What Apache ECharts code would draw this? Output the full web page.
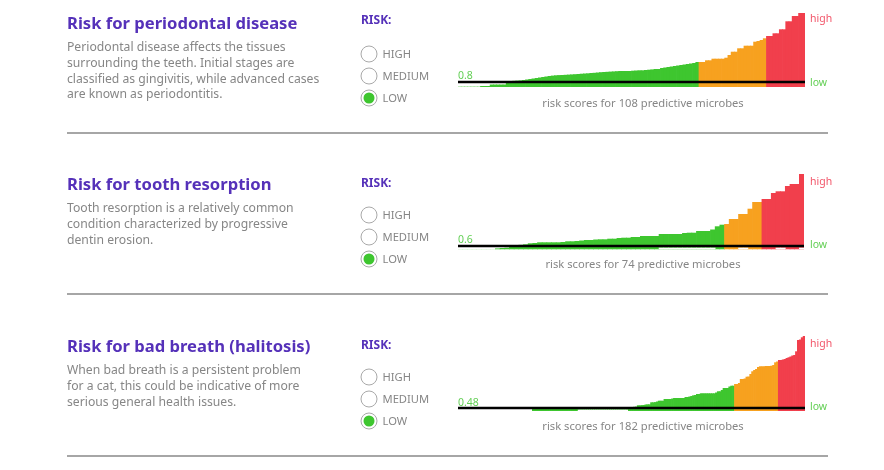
<!DOCTYPE html>
<html><head><meta charset="utf-8">
<script src="https://cdn.jsdelivr.net/npm/echarts@6/dist/echarts.min.js"></script>
<style>html,body{margin:0;padding:0;background:#fff}#c{width:884px;height:470px}</style>
</head><body><div id="c"></div>
<script>
// Scores are stored as hundredths above (+) or below (-) each panel's cutoff.
const periodontalMargins = [
-4.7,-4.7,-4.7,-4.7,-4.7,-4.7,-4.7,-4,-4,-4,
-2.5,-2.5,-2.5,-2.5,-2.5,0.5,1,1.2,1.4,1.6,
2,2.5,3,3.5,4,4.5,5,5.5,6,6.4,
6.7,6.9,7,7.2,7.4,7.6,7.8,8,8.3,8.5,
8.7,9,9.2,9.5,9.8,10,10.2,10.4,10.6,10.8,
11,11,11,11,11.3,11.5,11.7,11.7,12,12.3,
12.6,13,13,14,14.5,15,15.5,16,16.5,17,
17.5,18,18.5,19,20,20,20,21.7,21.7,23.3,
23.3,23.3,23.3,24.3,27,30.3,30.3,33.7,33.7,36.3,
36.3,36.3,40.3,41,42,43.7,46,46,48.7,48.7,
52.7,52.7,60.7,60.7,66,66,69,69];
const resorptionMargins = [
-3.2,-3.2,-3.2,-3.2,-3.2,-3.2,-3.2,-3.2,-2.4,-2,
-1.7,-1,0.5,1.2,1.7,2.7,3,3.7,3.7,3.7,
3.7,3.7,4,4.7,4.7,5,5.5,6,6,6.5,
6.7,6.7,7.3,7.3,8,8.3,8.3,9,9,10,
10,10,10,12,12,12,12,12,13,13.3,
13.3,15,15,15,16.5,19.7,21.3,22,27,27,
32,32,37.3,44,44,47,47,53,54.7,54.7,
60,62,62,72];
const halitosisMargins = [
-3,-3,-3,-3,-3,-3,-3,-3,-3,-3,-3,-3,-3,-3,-3,-3,-3,-3,-3,-3,
-3,-3,-3,-3,-3,-3,-3,-3,-3,-3,-3,-3,-3,-3,-3,-3,-3,-3,-3,
-0.5,-0.5,-0.5,-0.5,-0.5,-0.5,-0.5,-0.5,-0.5,-0.5,-0.5,-0.5,
-0.5,-0.5,-0.5,-0.5,-0.5,-0.5,-0.5,-0.5,-0.5,-0.5,-0.5,-0.5,
0,0,0,0,0,0,0,0,0,0,0,0,0,0,0,0,0,0,0,0,0,0,0,0,0,0,
0.5,0.8,1,1.2,1.4,2.7,2.7,2.9,3,3.5,3.7,3.7,5.7,5.7,5.9,
6.5,7.3,7.3,7.3,9,9,9,9,9.5,10,10,10,10,10,10,11,11,11.5,12,
12.7,13,14,14,14.7,14.7,14.7,14.7,14.7,14.7,14.7,14.7,15.5,16.7,16.7,
18,20,20,20,21.5,22.3,22.3,
24,24,25,29,29,29.5,31.3,31.5,34,36.7,38,39,41,41.7,41.7,41.7,42,42,42,42.3,43,45.7,46.5,
48,48,48.5,49,50,50.7,51.5,52.5,53,56.7,68,68.5,70.7,72];

const cutoffs = [0.8, 0.6, 0.48];
const zoneEnds = [[75, 96], [57, 65], [145, 168]];
const microbeCounts = [108, 74, 182];
const stripGaps = [[],
  [43,44,45,46,47,48,49,50,51,52,53,54,60,61,68,69,73],
  [63,64,65,66,67,68,69,70,71,72,73,74,75,76,77,78,79,80,81,82,83,84,85,86,87,88]];
const titles = ['Risk for periodontal disease', 'Risk for tooth resorption', 'Risk for bad breath (halitosis)'];
const descriptions = [
  ['Periodontal disease affects the tissues','surrounding the teeth. Initial stages are','classified as gingivitis, while advanced cases','are known as periodontitis.'],
  ['Tooth resorption is a relatively common','condition characterized by progressive','dentin erosion.'],
  ['When bad breath is a persistent problem','for a cat, this could be indicative of more','serious general health issues.']];
const riskLevels = ['HIGH', 'MEDIUM', 'LOW'];

const allMargins = [periodontalMargins, resorptionMargins, halitosisMargins];
const panelOffset = [0, 161, 323];
const gridBox = [{top:13,height:74,width:347,floor:-5,ceil:69},{top:174,height:75.3,width:346,floor:-3.3,ceil:72},{top:336,height:75,width:347,floor:-3,ceil:72}];
const GREEN='#3ec62f', ORANGE='#f7a11f', RED='#f13f4c', PURPLE='#5531b9', GREY='#868686';
const FONT='"Noto Sans"';

const grids=[],xAxes=[],yAxes=[],series=[],g=[];
function text(x,y,t,size,fill,weight,align){
  g.push({type:'text',silent:true,x:x,y:y,style:{text:t,fontFamily:FONT,fontSize:size,fill:fill,fontWeight:weight||'normal',align:align||'left',verticalAlign:'middle'}});
}
allMargins.forEach((margins,p)=>{
  const b=gridBox[p], cut=cutoffs[p], ends=zoneEnds[p];
  const score=m=>+(cut+m/100).toFixed(4);
  const bw=b.width/margins.length+0.7;
  grids.push({left:458,top:b.top,width:b.width,height:b.height,containLabel:false});
  xAxes.push({type:'category',gridIndex:p,data:margins.map((_,i)=>i+1),show:false,boundaryGap:true});
  yAxes.push({type:'value',gridIndex:p,show:false,min:score(b.floor),max:score(b.ceil),scale:true});
  series.push({type:'bar',xAxisIndex:p,yAxisIndex:p,barWidth:bw,barGap:'-100%',animation:false,silent:true,
    data:margins.map((m,i)=>({value:score(m),itemStyle:{color:i<ends[0]?GREEN:i<ends[1]?ORANGE:RED}})),
    markLine:{silent:true,symbol:'none',animation:false,z:10,label:{show:false},lineStyle:{color:'#000',width:2.4,type:'solid'},data:[{yAxis:cut}]}});
  series.push({type:'bar',xAxisIndex:p,yAxisIndex:p,barWidth:bw,barGap:'-100%',animation:false,silent:true,z:3,
    itemStyle:{color:'#fff'},
    data:margins.map((_,i)=>stripGaps[p].includes(i)?score(-1.6):null)});

  const o=panelOffset[p];
  text(67,24+o,titles[p],16.6,PURPLE,'bold');
  descriptions[p].forEach((l,i)=>text(67,48+o+i*15.6,l,12.2,GREY));
  text(361,[21,184,346][p],'RISK:',12,PURPLE,'bold');
  riskLevels.forEach((r,i)=>{
    const cy=54+o+i*22;
    g.push({type:'circle',silent:true,shape:{cx:369,cy:cy,r:8},style:{fill:'#fff',stroke:'#a9a9a9',lineWidth:1}});
    if(r==='LOW') g.push({type:'circle',silent:true,shape:{cx:369,cy:cy,r:5.5},style:{fill:GREEN}});
    text(382.5,cy+1,r,11.2,GREY);
  });
  text(810,[19,182,344][p],'high',10.5,'#f2566a');
  text(810,[83.5,245,407][p],'low',10.5,'#63cf55');
  text(458,[76,240.5,403][p],String(cut),10.5,'#63cf55');
  text(643,104+o,'risk scores for '+microbeCounts[p]+' predictive microbes',11.2,GREY,'normal','center');
  g.push({type:'rect',silent:true,shape:{x:67,y:132+o,width:761,height:2},style:{fill:'#a6a6a6'}});
});
const chart=echarts.init(document.getElementById('c'),null,{renderer:'canvas'});
chart.setOption({animation:false,backgroundColor:'#fff',grid:grids,xAxis:xAxes,yAxis:yAxes,series:series,graphic:{elements:g}});
</script></body></html>
